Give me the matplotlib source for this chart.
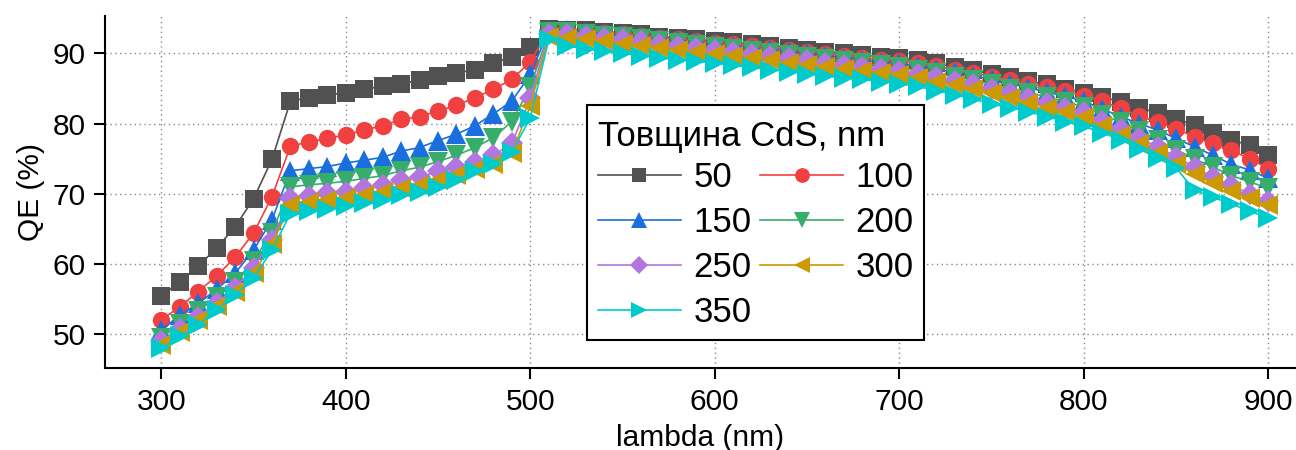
import matplotlib
matplotlib.use('Agg')
import matplotlib.pyplot as plt
import numpy as np

plt.rcParams['font.family'] = ['Liberation Sans', 'DejaVu Sans']

# wavelength grid, nm
lam = list(range(300, 901, 10))

# QE (%) for each CdS thickness
qe_50 = [55.4, 57.5, 59.7, 62.3, 65.3, 69.3, 74.9, 83.2, 83.7, 84.1, 84.4, 84.9, 85.3, 85.7, 86.2, 86.8, 87.2, 87.7, 88.6, 89.5, 90.9,
         93.5, 93.4, 93.3, 93.1, 92.9, 92.7, 92.4, 92.2, 92.0, 91.8, 91.6, 91.3, 91.1, 90.8, 90.5, 90.2, 90.0, 89.8, 89.5, 89.3,
         89.0, 88.6, 88.1, 87.6, 87.1, 86.6, 86.1, 85.6, 85.0, 84.4, 83.8, 83.1, 82.3, 81.5, 80.7, 79.8, 78.7, 77.7, 76.9, 75.6]
qe_100 = [52.1, 53.9, 56.1, 58.3, 61.0, 64.4, 69.6, 76.8, 77.4, 77.9, 78.4, 79.1, 79.7, 80.6, 81.0, 81.8, 82.6, 83.7, 84.9, 86.3, 88.8,
          93.3, 93.3, 93.1, 92.9, 92.7, 92.5, 92.2, 92.0, 91.8, 91.5, 91.3, 91.0, 90.8, 90.5, 90.2, 89.9, 89.7, 89.4, 89.1, 88.9,
          88.6, 88.2, 87.7, 87.2, 86.7, 86.2, 85.7, 85.2, 84.6, 84.0, 83.2, 82.2, 81.1, 80.2, 79.3, 78.1, 77.2, 76.2, 75.0, 73.6]
qe_150 = [50.6, 52.7, 54.4, 56.4, 58.7, 62.0, 66.3, 73.3, 73.6, 73.9, 74.4, 74.8, 75.2, 76.1, 76.6, 77.6, 78.5, 79.7, 81.4, 83.2, 87.0,
          93.3, 93.4, 93.1, 92.8, 92.6, 92.4, 92.1, 91.9, 91.6, 91.3, 91.1, 90.8, 90.6, 90.3, 90.0, 89.7, 89.4, 89.1, 88.8, 88.6,
          88.2, 87.8, 87.3, 86.8, 86.3, 85.7, 85.1, 84.5, 83.9, 83.2, 82.1, 81.0, 80.0, 79.1, 77.9, 76.7, 75.5, 74.2, 73.4, 72.2]
qe_200 = [49.5, 51.5, 53.3, 55.3, 57.5, 60.5, 64.5, 71.0, 71.3, 71.5, 71.8, 72.2, 72.6, 73.3, 73.8, 74.6, 75.5, 76.6, 78.0, 80.3, 85.2,
          93.0, 93.0, 92.8, 92.5, 92.3, 92.0, 91.8, 91.5, 91.2, 90.9, 90.6, 90.4, 90.1, 89.8, 89.5, 89.2, 88.9, 88.6, 88.3, 88.0,
          87.6, 87.2, 86.7, 86.2, 85.6, 85.0, 84.4, 83.8, 83.1, 82.4, 81.3, 80.2, 79.0, 77.7, 76.3, 75.0, 73.8, 72.6, 71.7, 70.8]
qe_250 = [49.0, 50.8, 52.5, 54.5, 56.6, 59.5, 63.5, 69.4, 69.7, 70.1, 70.3, 70.8, 71.3, 72.0, 72.4, 73.2, 73.9, 74.6, 75.5, 77.2, 83.6,
          92.8, 92.7, 92.5, 92.2, 92.0, 91.7, 91.4, 91.1, 90.8, 90.5, 90.2, 89.9, 89.6, 89.3, 89.0, 88.7, 88.4, 88.1, 87.8, 87.5,
          87.1, 86.6, 86.1, 85.6, 85.0, 84.4, 83.7, 83.0, 82.3, 81.6, 80.4, 79.2, 78.0, 76.7, 75.3, 73.8, 72.4, 71.2, 70.0, 69.0]
qe_300 = [48.5, 50.3, 52.0, 54.0, 56.0, 58.8, 62.8, 68.4, 68.8, 69.1, 69.4, 69.8, 70.3, 70.8, 71.3, 72.0, 72.7, 73.6, 74.3, 75.8, 82.5,
          92.4, 92.2, 92.0, 91.7, 91.4, 91.1, 90.8, 90.5, 90.2, 89.9, 89.6, 89.3, 89.0, 88.7, 88.4, 88.1, 87.8, 87.5, 87.2, 86.9,
          86.5, 86.0, 85.5, 85.0, 84.4, 83.7, 83.0, 82.3, 81.6, 80.9, 79.7, 78.4, 77.1, 75.8, 74.3, 72.8, 71.6, 70.4, 69.4, 68.4]
qe_350 = [48.0, 49.7, 51.3, 53.5, 55.6, 58.0, 62.0, 67.2, 67.6, 67.8, 68.3, 68.7, 69.1, 69.8, 70.3, 71.0, 72.0, 73.2, 74.3, 76.0, 80.8,
          92.0, 91.0, 90.7, 90.3, 90.0, 89.7, 89.4, 89.1, 88.9, 88.6, 88.3, 88.0, 87.7, 87.4, 87.1, 86.8, 86.5, 86.3, 86.0, 85.7,
          85.3, 84.7, 84.1, 83.5, 82.8, 82.3, 81.7, 81.0, 80.3, 79.6, 78.7, 77.7, 76.4, 75.1, 73.7, 70.5, 69.5, 68.6, 67.5, 66.6]

labels = ['50', '100', '150', '200', '250', '300', '350']
series = [qe_50, qe_100, qe_150, qe_200, qe_250, qe_300, qe_350]
colors = ['#515151', '#F14040', '#1A6FDF', '#37AD6B', '#B177DE', '#CC9900', '#00CBCC']
markers = ['s', 'o', '^', 'v', 'D', '<', '>']
msizes = [12.5, 12.5, 14, 14, 11, 14, 14]

fig = plt.figure(figsize=(12.96, 4.5), dpi=100)
ax = fig.add_axes([0.081, 0.182, 0.919, 0.782])

handles = []
for y, lab, c, m, ms in zip(series, labels, colors, markers, msizes):
    h, = ax.plot(lam, y, color=c, marker=m, markersize=ms, linewidth=1.2,
                 markeredgewidth=0, label=lab)
    handles.append(h)

ax.set_xlim(269.5, 915)
ax.set_ylim(45.2, 95.3)
ax.set_xticks([300, 400, 500, 600, 700, 800, 900])
ax.set_yticks([50, 60, 70, 80, 90])
ax.grid(True, color='#888888', linestyle=(0, (1, 2.5)), linewidth=1.0)
ax.set_axisbelow(True)

for side in ['top', 'right']:
    ax.spines[side].set_visible(False)
for side in ['left', 'bottom']:
    ax.spines[side].set_linewidth(1.5)

ax.tick_params(direction='out', length=8, width=1.5, labelsize=21.5, pad=6)
ax.set_xlabel('lambda (nm)', fontsize=21.5, labelpad=6)
ax.set_ylabel('QE (%)', fontsize=21.5, labelpad=5)

# row-major legend order: 50 100 / 150 200 / 250 300 / 350
order = [0, 2, 4, 6, 1, 3, 5]
leg = ax.legend([handles[i] for i in order], [labels[i] for i in order],
                title='Товщина CdS, nm', ncol=2, fontsize=25, title_fontsize=25,
                loc='upper left', bbox_to_anchor=(0.405, 0.747), borderaxespad=0,
                frameon=True, fancybox=False, edgecolor='black', framealpha=1,
                handlelength=2.4, handletextpad=0.35, columnspacing=0.25,
                labelspacing=0.35, borderpad=0.3, alignment='left', markerscale=0.85)
leg.get_frame().set_linewidth(1.5)
leg.get_title().set_position((0, -4))

fig.savefig('out.png', dpi=100)
